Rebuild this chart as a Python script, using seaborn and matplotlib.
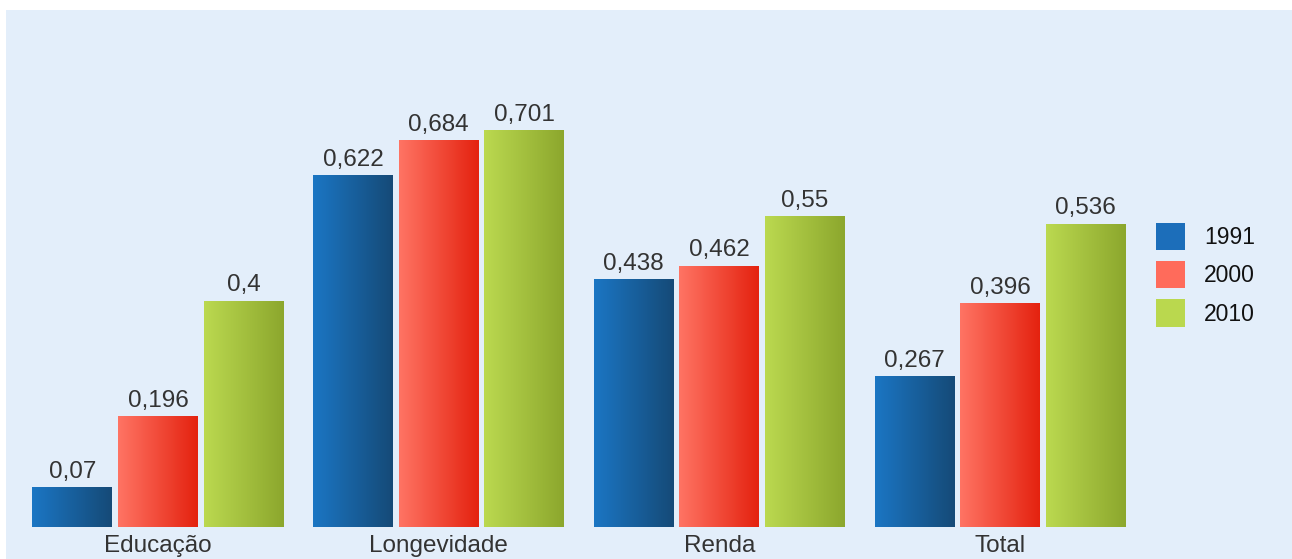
import numpy as np
import pandas as pd
import matplotlib
matplotlib.use("Agg")
import matplotlib.pyplot as plt
import matplotlib.patches as mpatches
from matplotlib.colors import LinearSegmentedColormap
import seaborn as sns

categories = ["Educação", "Longevidade", "Renda", "Total"]
years = ["1991", "2000", "2010"]
v1991 = [0.070, 0.622, 0.438, 0.267]
v2000 = [0.196, 0.684, 0.462, 0.396]
v2010 = [0.400, 0.701, 0.550, 0.536]

df = pd.DataFrame({
    "cat": categories * 3,
    "year": [years[0]] * 4 + [years[1]] * 4 + [years[2]] * 4,
    "val": v1991 + v2000 + v2010,
})

base_cols = {"1991": "#1C6EBA", "2000": "#FF6B5B", "2010": "#BAD84E"}
grad = {
    "1991": ("#1B76C4", "#154A77"),
    "2000": ("#FF7464", "#E4220F"),
    "2010": ("#BBD950", "#8CA72D"),
}
bg = "#E3EEFA"

sns.set_theme(style="white")
plt.rcParams["font.family"] = ["Liberation Sans", "DejaVu Sans"]

W, H = 1292, 559
fig = plt.figure(figsize=(W / 100, H / 100), dpi=100, facecolor="white")
fig.patches.append(mpatches.Rectangle((6 / W, 0), 1, (H - 10) / H, transform=fig.transFigure,
                                      facecolor=bg, edgecolor="none", zorder=-10))
ax_left = 17.6 / W
ax_w = (1140.3 - 17.6) / W
ax_bottom = (H - 527) / H
ax_h = (527 - 10) / H
ax = fig.add_axes([ax_left, ax_bottom, ax_w, ax_h])
ax.set_facecolor(bg)

sns.barplot(data=df, x="cat", y="val", hue="year", order=categories, hue_order=years,
            palette=base_cols, width=0.914, gap=0.066, ax=ax, legend=False,
            edgecolor="none", linewidth=0, saturation=1)

grad_img = np.linspace(0, 1, 256).reshape(1, -1)
for cont, yr in zip(ax.containers, years):
    cmap = LinearSegmentedColormap.from_list("g" + yr, list(grad[yr]))
    for p in cont.patches:
        x0, y0 = p.get_x(), p.get_y()
        w, h = p.get_width(), p.get_height()
        im = ax.imshow(grad_img, cmap=cmap, aspect="auto", extent=(x0, x0 + w, y0, y0 + h),
                       zorder=p.get_zorder() + 0.1, interpolation="bilinear")
        im.set_clip_path(p)
    labels = [f"{v:g}".replace(".", ",") for v in cont.datavalues]
    ax.bar_label(cont, labels=labels, padding=3, fontsize=17.5, color="#333333")

ax.set_xlim(-0.5, 3.5)
ax.set_ylim(0, 517 / 566)

for s in ax.spines.values():
    s.set_visible(False)
ax.set_yticks([])
ax.set_xlabel("")
ax.set_ylabel("")
ax.tick_params(axis="x", length=0, pad=6, labelsize=17.5, labelcolor="#333333")

handles = [mpatches.Patch(facecolor=base_cols[y], edgecolor="none", label=y) for y in years]
fig.legend(handles=handles, loc="upper left", bbox_to_anchor=(1156 / W, 1 - 223 / H),
           frameon=False, fontsize=16.5, handlelength=1.25, handleheight=1.45,
           labelspacing=0.48, handletextpad=0.85, borderaxespad=0, borderpad=0,
           labelcolor="#111111")

fig.savefig("out.png", dpi=100, facecolor="white")
